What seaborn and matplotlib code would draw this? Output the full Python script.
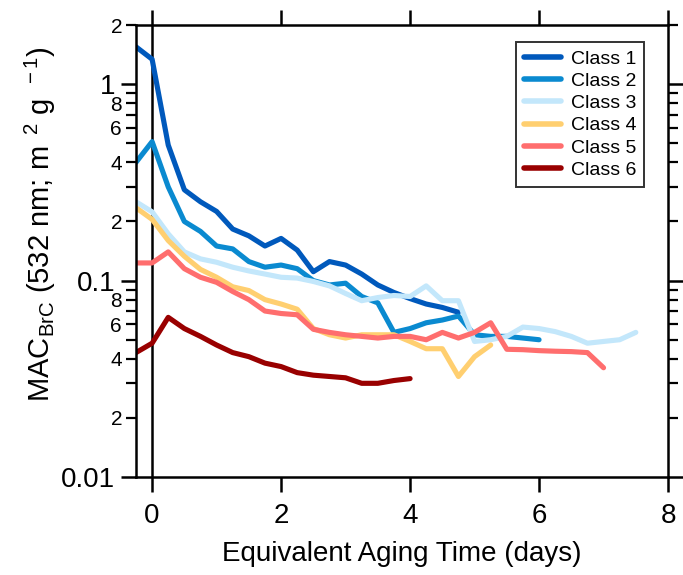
import numpy as np
import pandas as pd
import matplotlib
matplotlib.use("Agg")
import matplotlib.pyplot as plt
import seaborn as sns
from matplotlib.lines import Line2D
from matplotlib.ticker import FixedLocator, FuncFormatter, NullLocator

# Equivalent aging time grid (days)
aging_days = [-0.25, 0.0, 0.25, 0.5, 0.75, 1.0, 1.25, 1.5, 1.75, 2.0, 2.25, 2.5,
              2.75, 3.0, 3.25, 3.5, 3.75, 4.0, 4.25, 4.5, 4.75, 5.0, 5.25, 5.5,
              5.75, 6.0, 6.25, 6.5, 6.75, 7.0, 7.25, 7.5]

# MAC of brown carbon at 532 nm (m2 g-1) for each class
class1 = [1.55, 1.34, 0.49, 0.29, 0.252, 0.225, 0.183, 0.169, 0.150, 0.164, 0.143,
          0.111, 0.125, 0.120, 0.108, 0.095, 0.087, 0.081, 0.076, 0.073, 0.069]
class2 = [0.40, 0.51, 0.30, 0.20, 0.178, 0.150, 0.145, 0.125, 0.117, 0.120, 0.115,
          0.100, 0.095, 0.097, 0.083, 0.077, 0.0545, 0.057, 0.061, 0.063, 0.066,
          0.053, 0.052, 0.052, 0.051, 0.050]
class3 = [0.252, 0.224, 0.173, 0.140, 0.129, 0.124, 0.117, 0.112, 0.108, 0.104, 0.103,
          0.099, 0.094, 0.086, 0.079, 0.082, 0.084, 0.083, 0.094, 0.079, 0.079,
          0.049, 0.050, 0.052, 0.058, 0.057, 0.055, 0.052, 0.048, 0.049, 0.050, 0.0545]
class4 = [0.235, 0.205, 0.160, 0.133, 0.114, 0.104, 0.093, 0.089, 0.080, 0.076, 0.0715,
          0.057, 0.053, 0.051, 0.053, 0.053, 0.053, 0.049, 0.045, 0.045, 0.0325,
          0.041, 0.047]
class5 = [0.123, 0.123, 0.140, 0.115, 0.104, 0.098, 0.088, 0.080, 0.070, 0.068, 0.067,
          0.0565, 0.0545, 0.053, 0.052, 0.051, 0.052, 0.052, 0.050, 0.0545, 0.051,
          0.0545, 0.061, 0.0447, 0.0445, 0.044, 0.0437, 0.0435, 0.043, 0.036]
class6 = [0.043, 0.048, 0.065, 0.057, 0.052, 0.047, 0.043, 0.041, 0.038, 0.0365, 0.034,
          0.033, 0.0325, 0.032, 0.030, 0.030, 0.031, 0.0317]

class_names = ["Class 1", "Class 2", "Class 3", "Class 4", "Class 5", "Class 6"]
class_values = [class1, class2, class3, class4, class5, class6]
class_colors = ["#0059BC", "#0A8AD0", "#C3E7FB", "#FFCF70", "#FF6E6E", "#990000"]

frames = []
for name, vals in zip(class_names, class_values):
    frames.append(pd.DataFrame({"days": aging_days[:len(vals)], "mac": vals, "cls": name}))
df = pd.concat(frames, ignore_index=True)

sns.set_style("ticks")
plt.rcParams["font.family"] = ["Liberation Sans", "DejaVu Sans"]
plt.rcParams["mathtext.fontset"] = "custom"
plt.rcParams["mathtext.rm"] = "Liberation Sans"
plt.rcParams["mathtext.it"] = "Liberation Sans:italic"
for key in ("text.color", "axes.labelcolor", "xtick.color", "ytick.color"):
    plt.rcParams[key] = "black"

fig = plt.figure(figsize=(6.83, 5.75), dpi=100)
ax = fig.add_axes([0.1991, 0.1704, 0.779, 0.786])

ax.axvline(0, color="black", lw=1.8, zorder=1)
sns.lineplot(data=df, x="days", y="mac", hue="cls", hue_order=class_names,
             palette=class_colors, linewidth=3.7, estimator=None, sort=False,
             legend=False, ax=ax, zorder=2)

ax.set_yscale("log")
ax.set_xlim(-0.25, 8)
ax.set_ylim(0.01, 2)

for sp in ax.spines.values():
    sp.set_visible(True)
    sp.set_linewidth(1.8)
    sp.set_color("black")

ax.set_xticks([0, 2, 4, 6, 8])
ax.xaxis.set_minor_locator(NullLocator())

ax.yaxis.set_major_locator(FixedLocator([0.01, 0.1, 1]))
ax.yaxis.set_major_formatter(FuncFormatter(lambda v, p: {0.01: "0.01", 0.1: "0.1", 1: "1"}.get(round(v, 3), "")))
minor_vals = [m * d for d in (0.01, 0.1) for m in range(2, 10)] + [2.0]
ax.yaxis.set_minor_locator(FixedLocator(minor_vals))


def minor_label(v, pos):
    lead = int(round(v / 10 ** np.floor(np.log10(v) + 1e-9)))
    return str(lead) if lead in (2, 4, 6, 8) else ""


ax.yaxis.set_minor_formatter(FuncFormatter(minor_label))

ax.tick_params(axis="x", which="major", pad=8)
ax.tick_params(axis="both", which="major", direction="out", length=11, width=1.8,
               top=True, right=True, labelsize=20, color="black")
ax.tick_params(axis="y", which="major", pad=4)
ax.tick_params(axis="y", which="minor", direction="out", length=7, width=1.6,
               right=True, labelsize=15, pad=3, color="black")

ax.set_xlabel("Equivalent Aging Time (days)", fontsize=20, labelpad=8)
ax.set_ylabel(r"MAC$_{\rm BrC}$ (532 nm; m $^{\,2}$ g $^{\,-1}$)", fontsize=21, labelpad=2)
ax.yaxis.label.set_y(0.56)

handles = [Line2D([0], [0], color=c, lw=4) for c in class_colors]
leg = ax.legend(handles, class_names, loc="upper right", bbox_to_anchor=(0.955, 0.962),
                fontsize=14, frameon=True, fancybox=False, edgecolor="black",
                handlelength=1.9, labelspacing=0.24, borderpad=0.4, handletextpad=0.5,
                borderaxespad=0)
leg.get_frame().set_linewidth(1.4)

fig.savefig("out.png", dpi=100)
